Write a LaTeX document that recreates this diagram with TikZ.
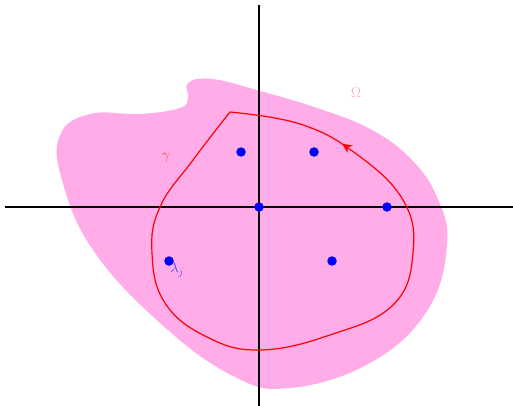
\documentclass[tikz,border=0pt]{standalone}
\usepackage{amsmath}
\usetikzlibrary{arrows.meta,decorations.markings}
\definecolor{regionpink}{RGB}{255,172,232}
\definecolor{omegapink}{RGB}{255,170,215}
\definecolor{gammared}{RGB}{240,70,70}
\definecolor{lambdablue}{RGB}{70,70,255}
\tikzset{
  region/.style={fill=regionpink, draw=none},
  axis/.style={line width=1.4pt, black},
  contour/.style={draw=red, line width=1.2pt,
    postaction={decorate, decoration={markings,
      mark=at position 0.85 with {\arrow{Stealth[length=10pt,width=9pt]}}}}},
  eig/.style={circle, fill=blue, inner sep=0pt, minimum size=9.5pt},
  lbl/.style={font=\Large, inner sep=0pt}
}

\begin{document}
\begin{tikzpicture}[x=1pt, y=-1pt]
    \useasboundingbox (0,0) rectangle (513,406);

    % the region Omega
    \path[region] plot[smooth cycle, tension=0.7] coordinates {
      (188,83) (212,79) (260,91) (320,109) (370,129) (410,158) (437,197)
      (447,245) (427,311) (370,363) (290,388) (233,376) (160,323)
      (93,250) (62,180) (60,135) (90,114) (140,114) (180,108) (188,98)};

    % axes
    \draw[axis] (5,207) -- (513,207);
    \draw[axis] (259,5) -- (259,406);

    % the contour gamma
    \draw[contour] plot[smooth, tension=0.7] coordinates {
      (230,112) (193,160) (160,207) (152,253) (165,303) (207,337)
      (260,350) (330,335) (393,305) (413,253) (403,200) (355,153)
      (300,124) (230,112)};

    % eigenvalues
    \node[eig] (e1) at (241,152) {};
    \node[eig] (e2) at (314,152) {};
    \node[eig] (e3) at (259,207) {};
    \node[eig] (e4) at (387,207) {};
    \node[eig] (e5) at (169,261) {};
    \node[eig] (e6) at (332,261) {};

    % labels
    \node[lbl, text=omegapink] (omega) at (356,93) {$\Omega$};
    \node[lbl, text=gammared] (gamma) at (166,158) {$\gamma$};
    \node[lbl, text=lambdablue] (lambda) at (177,270) {$\lambda_j$};
\end{tikzpicture}
\end{document}
